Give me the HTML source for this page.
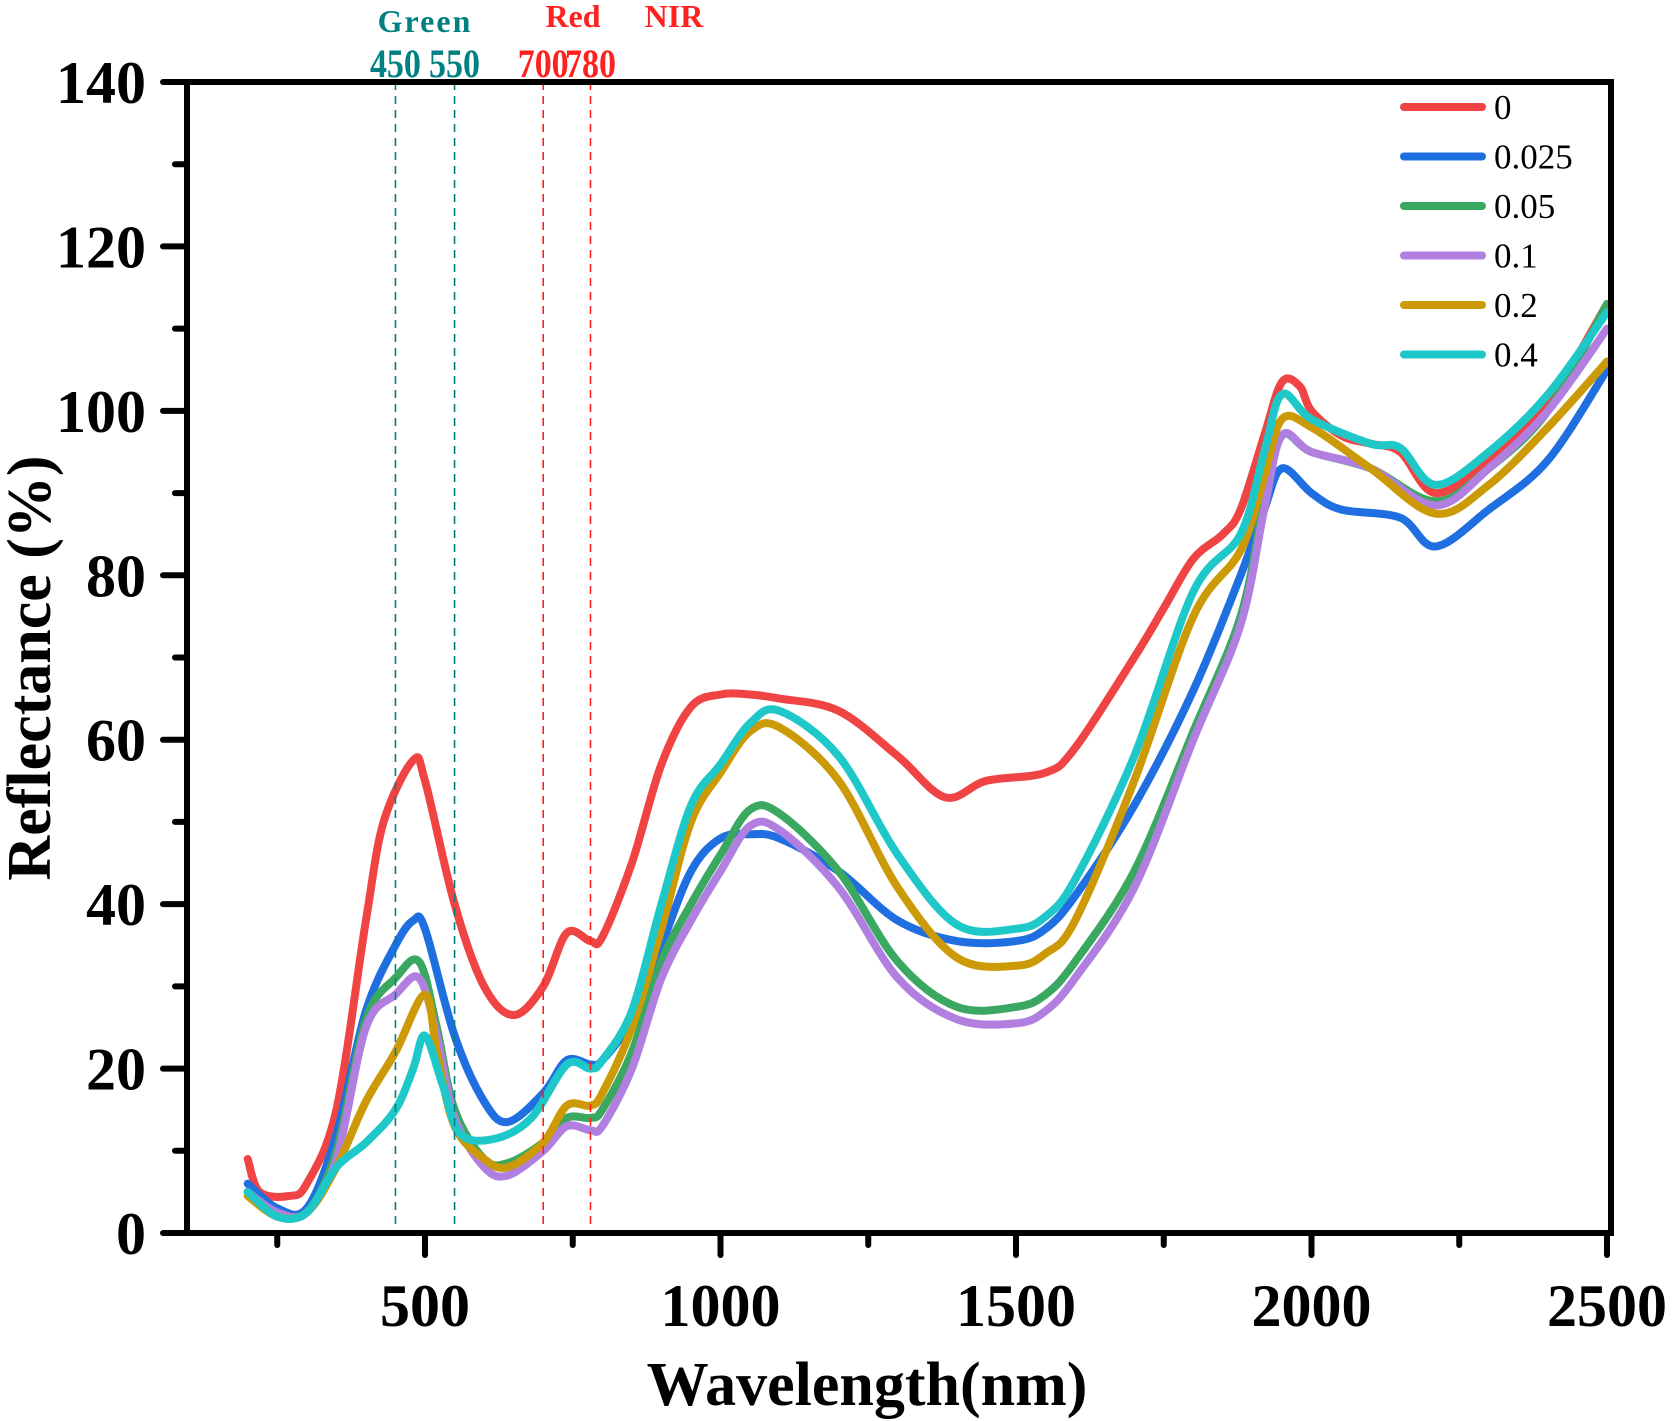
<!DOCTYPE html>
<html><head><meta charset="utf-8"><style>
body{margin:0;background:#fff}
svg{display:block;font-family:"Liberation Serif",serif;font-weight:bold}
</style></head><body>
<svg id="chart" width="1675" height="1421" viewBox="0 0 1675 1421">
<g id="marks"></g>
</svg>
<script>
const seriesNames=["0","0.025","0.05","0.1","0.2","0.4"];
const seriesColors=["#f04444","#1f6fe0","#3aa860","#b07fe0","#cc9a06","#1fc8c8"];
const wl0=[200,220,270,300,350,400,430,480,500,550,600,650,700,740,780,800,850,900,950,1000,1050,1100,1200,1300,1380,1450,1550,1600,1700,1750,1800,1850,1880,1920,1950,1980,2000,2050,2100,2150,2210,2300,2400,2500];
const val0=[9,5,4.5,6,15,38,50,57.5,55,40,30,26.5,30,36.5,35.5,36,45,57,64,65.5,65.5,65,63.5,58,53,55,56,59,70,76,82,85,88,97,103.5,103,100,97,96,95,90,94,101,113];
const wl1=[200,250,300,350,400,450,480,500,550,600,640,700,740,780,800,850,900,950,1000,1050,1100,1200,1300,1400,1500,1550,1600,1700,1800,1880,1920,1950,2000,2050,2150,2210,2300,2400,2500];
const val1=[6,3,3,12,27,35,38,37,24,16,13.5,17,21,20.5,21,26,35,44,48,48.5,48,44,38,35.5,35.5,37,41,52,66,80,88,93,90,88,87,83.5,88,94,105];
const wl2=[200,250,300,350,400,450,490,520,550,600,640,700,740,780,800,850,900,950,1000,1050,1100,1200,1300,1400,1500,1550,1600,1700,1800,1880,1920,1950,2000,2100,2210,2300,2400,2500];
const val2=[5,2.5,2.5,10,26,31,33,25,15,9,8.5,11,14,14,15,22,33,40,46,51.5,51,44,33,27.5,27.5,29,33,44,61,75,89,97,95,93,89,93,100,113];
const wl3=[200,250,300,350,400,450,490,520,550,600,640,700,740,780,800,850,900,950,1000,1050,1100,1200,1300,1400,1500,1550,1600,1700,1800,1880,1920,1950,2000,2100,2210,2300,2400,2500];
const val3=[5,2.5,2.5,9,25,29,31,24,14,8,7,10,13,12.5,13,20,31,38,44,49.5,49,42,31,26,25.5,27,31,42,60,74,88,97,95,93,88.5,93,100,110];
const wl4=[200,250,300,350,400,450,500,520,550,600,640,700,740,780,800,850,900,950,1000,1050,1100,1200,1300,1400,1500,1550,1600,1700,1800,1880,1920,1950,2000,2100,2210,2300,2400,2500];
const val4=[4.5,2,2.5,8,16,22,29,22,13,9,8,11,15.5,15.5,17,25,37,50,56,61,61.5,55,42,33.5,32.5,34,38,55,75,83,92,99,98,93,87.5,91,98,106];
const wl5=[200,250,300,350,400,450,480,500,530,560,620,680,740,780,800,850,900,950,1000,1050,1100,1200,1300,1400,1500,1550,1600,1700,1800,1880,1920,1950,2000,2100,2150,2210,2300,2400,2500];
const val5=[5,2,2.5,8,11,15,20,24,18,12,11.5,14,20.5,20,21,27,40,52,57,62,63.5,58,46,37.5,37,38.5,43,58,78,85,95,102,99,96,95.5,91,95,102,112];
const yTicks=[0,20,40,60,80,100,120,140];
const xTicks=[500,1000,1500,2000,2500];
const bandLines=[450,550,700,780];
const bandColors=["#008080","#008080","#ff2020","#ff2020"];

const NS="http://www.w3.org/2000/svg";
const svg=document.getElementById('chart');
const L=187,R=1611,T=82,B=1233;
function X(w){return 425+(w-500)*0.591;}
function Y(v){return B-v*(B-T)/140;}
function mk(tag,attrs,parent){const e=document.createElementNS(NS,tag);for(const k in attrs)e.setAttribute(k,attrs[k]);(parent||svg).appendChild(e);return e;}
function smoothPath(p){
  let d='M'+p[0][0].toFixed(1)+','+p[0][1].toFixed(1);
  for(let i=0;i<p.length-1;i++){
    const p0=p[Math.max(0,i-1)],p1=p[i],p2=p[i+1],p3=p[Math.min(p.length-1,i+2)];
    const t=6;
    const c1x=p1[0]+(p2[0]-p0[0])/t,c1y=p1[1]+(p2[1]-p0[1])/t;
    const c2x=p2[0]-(p3[0]-p1[0])/t,c2y=p2[1]-(p3[1]-p1[1])/t;
    d+=' C'+c1x.toFixed(1)+','+c1y.toFixed(1)+' '+c2x.toFixed(1)+','+c2y.toFixed(1)+' '+p2[0].toFixed(1)+','+p2[1].toFixed(1);
  }
  return d;
}

bandLines.forEach((b,i)=>{
  const l=mk('line',{x1:X(b),x2:X(b),y1:T,y2:B,stroke:bandColors[i],'stroke-width':1.6,'stroke-dasharray':'8,6'});
  
  
  const t=mk('text',{x:X(b),y:77,'text-anchor':'middle','font-size':40,fill:bandColors[i],transform:'translate('+X(b)+',77) scale(0.85,1) translate('+(-X(b))+',-77)'});
  t.textContent=b;
  
  
});
[["Green",425,32,"#008080"],["Red",573,27,"#ff2020"],["NIR",674,27,"#ff2020"]].forEach(a=>{
  const t=mk('text',{x:a[1],y:a[2],'text-anchor':'middle','font-size':32,fill:a[3],'letter-spacing':a[0]==='Green'?2:0});
  t.textContent=a[0];
  
  
});

const wls=[wl0,wl1,wl2,wl3,wl4,wl5], vals=[val0,val1,val2,val3,val4,val5];
const g=document.getElementById('marks');
wls.forEach((w,i)=>{
  const pts=w.map((x,j)=>[X(x),Y(vals[i][j])]);
  const p=mk('path',{d:smoothPath(pts),fill:'none',stroke:seriesColors[i],'stroke-width':8,'stroke-linejoin':'round','stroke-linecap':'round'},g);
  
  
});

const fr=mk('rect',{x:L,y:T,width:R-L,height:B-T,fill:'none',stroke:'#000','stroke-width':6});



for(let v=0;v<=140;v+=10){
  const major=v%20===0;
  mk('line',{x1:L,x2:L-(major?24:12),y1:Y(v),y2:Y(v),stroke:'#000','stroke-width':6,'stroke-linecap':'round'});
}
yTicks.forEach(v=>{
  const t=mk('text',{x:146,y:Y(v)+21,'text-anchor':'end','font-size':60});
  t.textContent=v;
  
  
});
for(let w=250;w<=2500;w+=250){
  const major=w%500===0;
  mk('line',{x1:X(w),x2:X(w),y1:B,y2:B+(major?22:12),stroke:'#000','stroke-width':6,'stroke-linecap':'round'});
}
xTicks.forEach(w=>{
  const t=mk('text',{x:X(w),y:1326,'text-anchor':'middle','font-size':60});
  t.textContent=w;
  
  
});
const xt=mk('text',{x:867,y:1405,'text-anchor':'middle','font-size':62});
xt.textContent='Wavelength(nm)';


const yt=mk('text',{x:0,y:0,'text-anchor':'middle','font-size':62,transform:'translate(50,668) rotate(-90)'});
yt.textContent='Reflectance (%)';



seriesNames.forEach((n,i)=>{
  const y=107+i*49.5;
  const l=mk('line',{x1:1404,x2:1482,y1:y,y2:y,stroke:seriesColors[i],'stroke-width':8,'stroke-linecap':'round'});
  
  
  const t=mk('text',{x:1494,y:y+12,'font-size':35,'font-weight':'normal'});
  t.textContent=n;
  
  
});
</script>
</body></html>
